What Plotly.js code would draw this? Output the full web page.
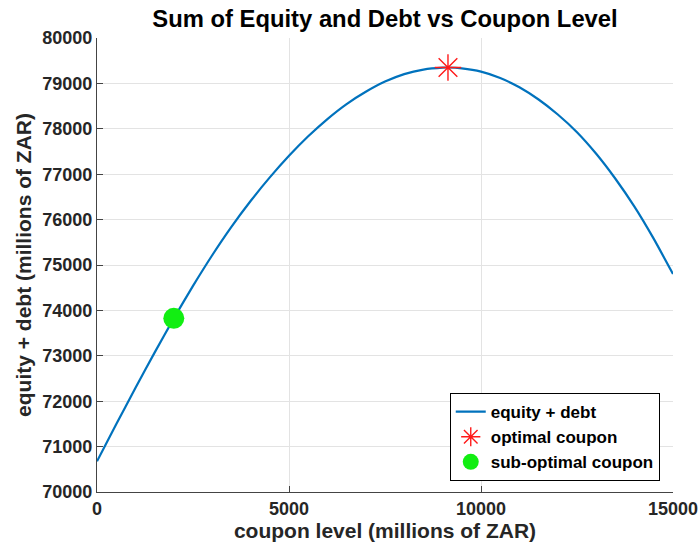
<!DOCTYPE html>
<html>
<head>
<meta charset="utf-8">
<script src="https://cdn.plot.ly/plotly-3.0.1.min.js"></script>
<style>html,body{margin:0;padding:0;background:#fff;}#chart{width:700px;height:543px;}</style>
</head>
<body>
<div id="chart"></div>
<script>
// coupon level (millions of ZAR)
var couponLevels = [0, 500, 1000, 1500, 2000, 2500, 3000, 3500, 4000, 4500, 5000, 5500, 6000, 6500, 7000, 7500, 8000, 8500, 9000, 9140, 9500, 10000, 10500, 11000, 11500, 12000, 12500, 13000, 13500, 14000, 14500, 15000];
// equity + debt (millions of ZAR)
var equityPlusDebt = [70675, 71490, 72290, 73070, 73825, 74540, 75215, 75840, 76410, 76930, 77405, 77835, 78215, 78545, 78815, 79040, 79205, 79305, 79348, 79350, 79330, 79258, 79118, 78915, 78645, 78315, 77925, 77450, 76900, 76280, 75575, 74800];
var optimalCoupon = [9140];
var optimalValue = [79350];
var subOptimalCoupon = [2000];
var subOptimalValue = [73825];
var xTicks = [0, 5000, 10000, 15000];
var yTicks = [70000, 71000, 72000, 73000, 74000, 75000, 76000, 77000, 78000, 79000, 80000];

var FONT = 'Liberation Sans, Arial, Helvetica, sans-serif';
var TXT = '#262626';

var traces = [
  {x: couponLevels, y: equityPlusDebt, type: 'scatter', mode: 'lines', name: 'equity + debt',
   line: {color: '#0072BD', width: 2.2, shape: 'spline', smoothing: 0.5}},
  {x: optimalCoupon, y: optimalValue, type: 'scatter', mode: 'markers', name: 'optimal coupon',
   marker: {symbol: 'asterisk-open', size: 22, color: '#ff1a1a', line: {color: '#ff1a1a', width: 1.4}}},
  {x: subOptimalCoupon, y: subOptimalValue, type: 'scatter', mode: 'markers', name: 'sub-optimal coupon',
   marker: {symbol: 'circle', size: 21, color: '#12ee12', line: {width: 0}}}
];

var layout = {
  width: 700, height: 543,
  margin: {l: 97, r: 27, t: 38, b: 51},
  paper_bgcolor: '#fff', plot_bgcolor: '#fff',
  font: {family: FONT, color: TXT},
  showlegend: true,
  title: {text: 'Sum of Equity and Debt vs Coupon Level', font: {family: FONT, size: 23.8, weight: 'bold', color: '#000'},
          x: 0.55, xref: 'container', xanchor: 'center', y: 0.965, yref: 'container', yanchor: 'middle'},
  xaxis: {
    range: [0, 15000], tickvals: xTicks, ticktext: xTicks.map(String),
    showgrid: true, gridcolor: '#e3e3e3', gridwidth: 1, zeroline: false,
    showline: true, linecolor: '#444', linewidth: 1, ticks: 'inside', ticklen: 6, tickcolor: '#444',
    tickfont: {family: FONT, size: 18, weight: 'bold', color: TXT},
    title: {text: 'coupon level (millions of ZAR)', font: {family: FONT, size: 21, weight: 'bold', color: TXT}, standoff: 0},
    automargin: false
  },
  yaxis: {
    range: [70000, 80000], tickvals: yTicks, ticktext: yTicks.map(String),
    showgrid: true, gridcolor: '#e3e3e3', gridwidth: 1, zeroline: false,
    showline: true, linecolor: '#444', linewidth: 1, ticks: 'inside', ticklen: 6, tickcolor: '#444',
    tickfont: {family: FONT, size: 18, weight: 'bold', color: TXT},
    title: {text: 'equity + debt (millions of ZAR)', font: {family: FONT, size: 21, weight: 'bold', color: TXT}, standoff: 4},
    automargin: false
  },
  legend: {
    x: 0.977, xanchor: 'right', y: 0.024, yanchor: 'bottom',
    bgcolor: '#fff', bordercolor: '#000', borderwidth: 1,
    font: {family: FONT, size: 17, weight: 'bold', color: '#000'},
    itemwidth: 30
  }
};

Plotly.newPlot('chart', traces, layout, {staticPlot: true, displayModeBar: false});
</script>
</body>
</html>
